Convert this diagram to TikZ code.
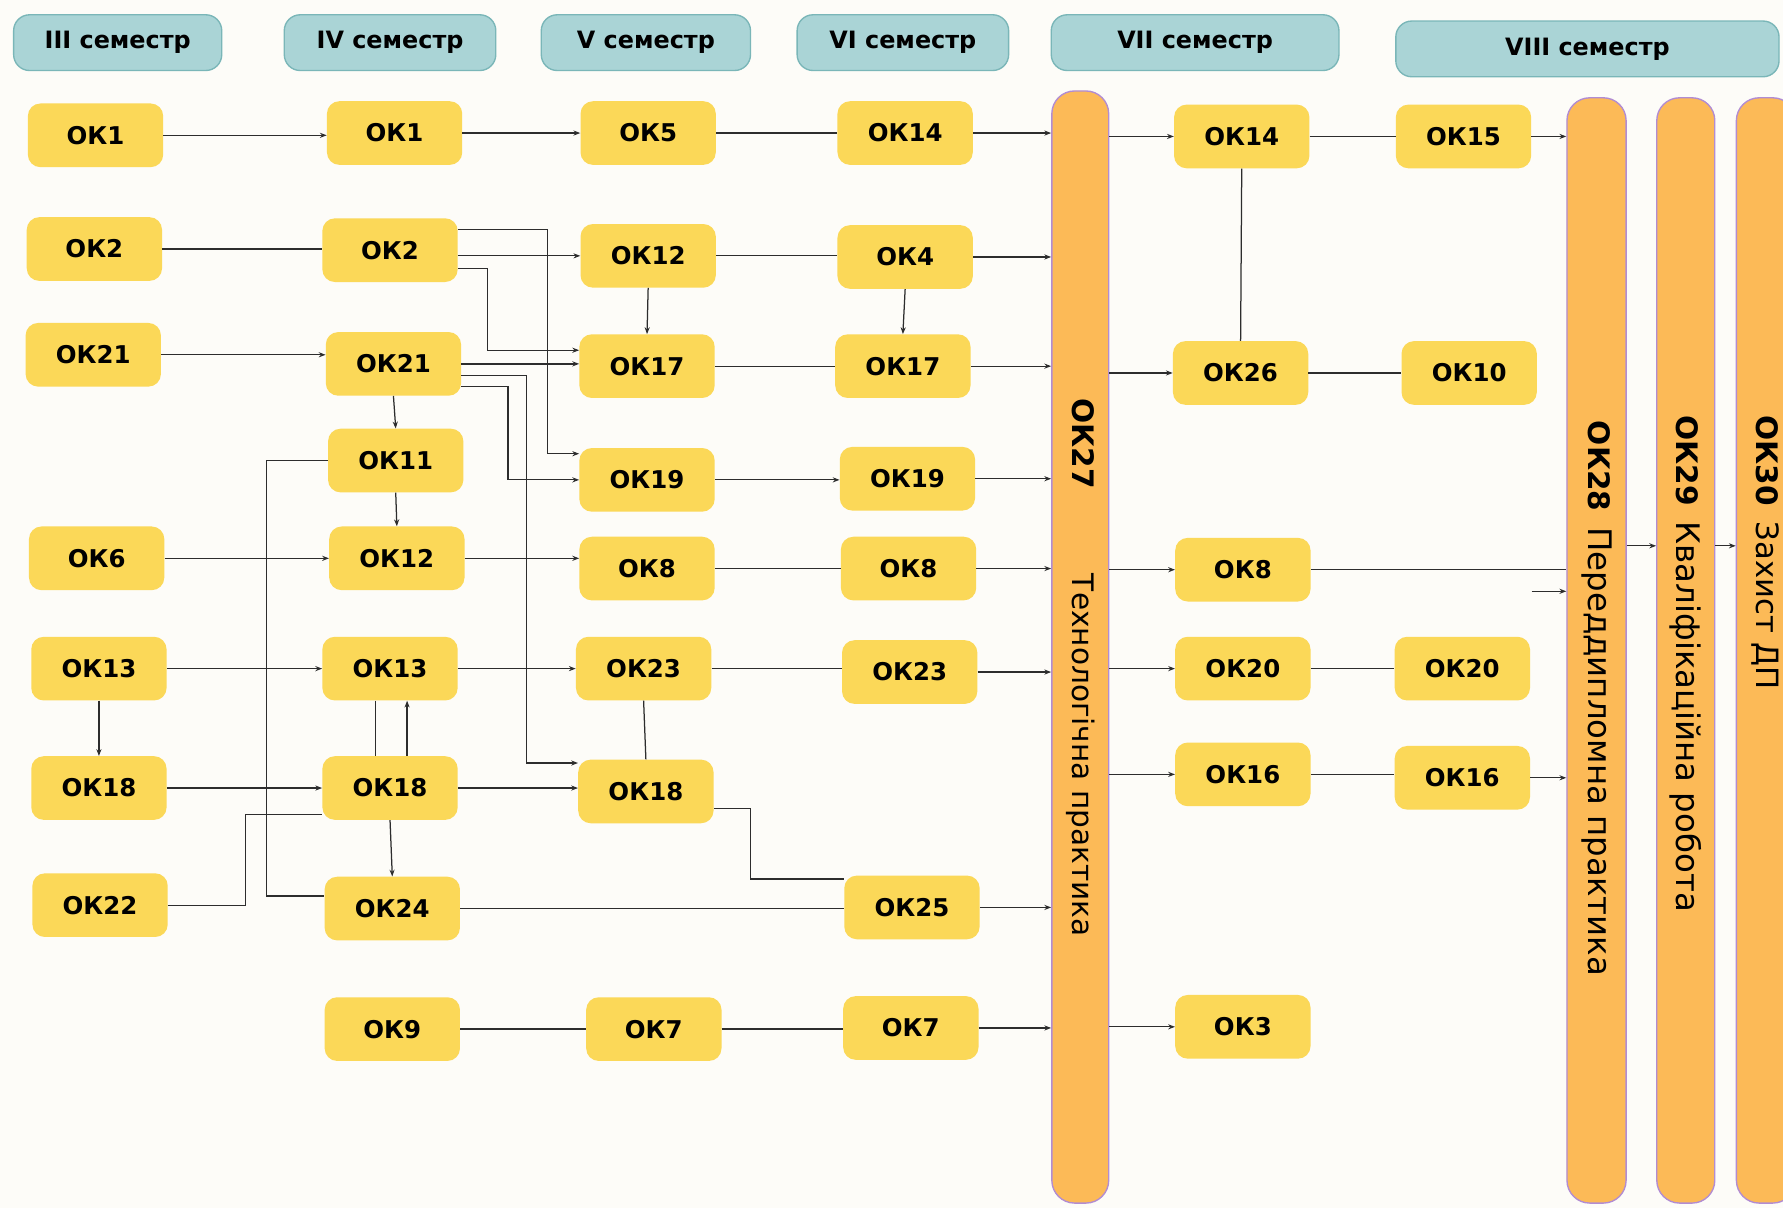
\documentclass[tikz,border=0pt]{standalone}
\usepackage{fontspec}
\setmainfont{DejaVu Sans}
\usetikzlibrary{arrows.meta}
\definecolor{okfill}{RGB}{251,216,88}
\definecolor{hdrfill}{RGB}{170,212,214}
\definecolor{hdrline}{RGB}{122,182,184}
\definecolor{barfill}{RGB}{252,186,87}
\definecolor{barline}{RGB}{178,140,210}
\definecolor{bgc}{RGB}{253,252,248}
\definecolor{lnc}{RGB}{45,45,45}
\tikzset{
  okbox/.style={rectangle, rounded corners=11pt, fill=okfill, minimum width=119pt, minimum height=56pt, inner sep=0pt, font=\fontsize{21.5}{24}\selectfont\bfseries},
  hdr/.style={rectangle, rounded corners=14pt, fill=hdrfill, draw=hdrline, line width=1.2pt, minimum height=49pt, inner sep=0pt, font=\fontsize{21}{24}\selectfont\bfseries},
  barbox/.style={rectangle, rounded corners=20pt, fill=barfill, draw=barline, line width=1.2pt, inner sep=0pt},
  barlabel/.style={rotate=-90, anchor=west, inner sep=0pt, font=\fontsize{26}{30}\selectfont},
  ln/.style={draw=lnc, line width=1.1pt},
  ar/.style={ln, -{Stealth[length=6pt,width=4.5pt]}},
}
\begin{document}
\begin{tikzpicture}[x=1pt,y=-1pt]
\fill[bgc] (0,0) rectangle (1568,1062);
\useasboundingbox (0,0) rectangle (1568,1062);
\begin{scope}
\clip (0,0) rectangle (1568,1062);
% headers
\node[hdr, minimum width=183pt] (h3) at (103.5,37.5) {III семестр};
\node[hdr, minimum width=186pt] (h4) at (343,37.5) {IV семестр};
\node[hdr, minimum width=184pt] (h5) at (568,37.5) {V семестр};
\node[hdr, minimum width=186pt] (h6) at (794,37.5) {VI семестр};
\node[hdr, minimum width=253pt] (h7) at (1051,37.5) {VII семестр};
\node[hdr, minimum width=337pt] (h8) at (1396,43) {VIII семестр};
% bars
\node[barbox, minimum width=50pt, minimum height=978pt] (b27) at (950,569) {};
\node[barbox, minimum width=52pt, minimum height=972pt] (b28) at (1404,572) {};
\node[barbox, minimum width=51pt, minimum height=972pt] (b29) at (1482.5,572) {};
\node[barbox, minimum width=52pt, minimum height=972pt] (b30) at (1553,572) {};
\node[barlabel] (l27) at (950,350) {\textbf{ОК27}\hspace{75pt}Технологічна практика};
\node[barlabel] (l28) at (1404,370) {\textbf{ОК28}\hspace{14pt}{\fontsize{28.5}{30}\selectfont Переддипломна практика}};
\node[barlabel] (l29) at (1482,365) {\textbf{ОК29}\hspace{14pt}{\fontsize{28.5}{30}\selectfont Кваліфікаційна робота}};
\node[barlabel] (l30) at (1553,365) {\textbf{ОК30}\hspace{14pt}{\fontsize{27}{30}\selectfont Захист ДП}};
% III semester
\node[okbox] (ok1a) at (84,119) {ОК1};
\node[okbox] (ok2a) at (83,219) {ОК2};
\node[okbox] (ok21a) at (82,312) {ОК21};
\node[okbox] (ok6a) at (85,491) {ОК6};
\node[okbox] (ok13a) at (87,588) {ОК13};
\node[okbox] (ok18a) at (87,693) {ОК18};
\node[okbox] (ok22a) at (88,796) {ОК22};
% IV semester
\node[okbox] (ok1b) at (347,117) {ОК1};
\node[okbox] (ok2b) at (343,220) {ОК2};
\node[okbox] (ok21b) at (346,320) {ОК21};
\node[okbox] (ok11b) at (348,405) {ОК11};
\node[okbox] (ok12b) at (349,491) {ОК12};
\node[okbox] (ok13b) at (343,588) {ОК13};
\node[okbox] (ok18b) at (343,693) {ОК18};
\node[okbox] (ok24b) at (345,799) {ОК24};
\node[okbox] (ok9b) at (345,905) {ОК9};
% V semester
\node[okbox] (ok5c) at (570,117) {ОК5};
\node[okbox] (ok12c) at (570,225) {ОК12};
\node[okbox] (ok17c) at (569,322) {ОК17};
\node[okbox] (ok19c) at (569,422) {ОК19};
\node[okbox] (ok8c) at (569,500) {ОК8};
\node[okbox] (ok23c) at (566,588) {ОК23};
\node[okbox] (ok18c) at (568,696) {ОК18};
\node[okbox] (ok7c) at (575,905) {ОК7};
% VI semester
\node[okbox] (ok14d) at (796,117) {ОК14};
\node[okbox] (ok4d) at (796,226) {ОК4};
\node[okbox] (ok17d) at (794,322) {ОК17};
\node[okbox] (ok19d) at (798,421) {ОК19};
\node[okbox] (ok8d) at (799,500) {ОК8};
\node[okbox] (ok23d) at (800,591) {ОК23};
\node[okbox] (ok25d) at (802,798) {ОК25};
\node[okbox] (ok7d) at (801,904) {ОК7};
% VII semester
\node[okbox] (ok14e) at (1092,120) {ОК14};
\node[okbox] (ok26e) at (1091,328) {ОК26};
\node[okbox] (ok8e) at (1093,501) {ОК8};
\node[okbox] (ok20e) at (1093,588) {ОК20};
\node[okbox] (ok16e) at (1093,681) {ОК16};
\node[okbox] (ok3e) at (1093,903) {ОК3};
% VIII semester
\node[okbox] (ok15f) at (1287,120) {ОК15};
\node[okbox] (ok10f) at (1292,328) {ОК10};
\node[okbox] (ok20f) at (1286,588) {ОК20};
\node[okbox] (ok16f) at (1286,684) {ОК16};
\coordinate (stub) at (1347,520);

% III -> IV
\draw[ar] (ok1a.east) -- (ok1a.east -| ok1b.west);
\draw[ln] (ok2a.east) -- (ok2a.east -| ok2b.west);
\draw[ar] (ok21a.east) -- (ok21a.east -| ok21b.west);
\draw[ar] (ok6a.east) -- (ok6a.east -| ok12b.west);
\draw[ar] (ok13a.east) -- (ok13a.east -| ok13b.west);
\draw[ar] (ok18a.east) -- (ok18a.east -| ok18b.west);
\draw[ln] (ok22a.east) -- ++(68,0) |- ([yshift=-23pt]ok18b.west);
\draw[ar] (ok13a.south) -- (ok18a.north);
% IV internal
\draw[ar] (ok21b.south) -- (ok11b.north);
\draw[ar] (ok11b.south) -- (ok12b.north);
\draw[ln] ([xshift=-13pt]ok13b.south) -- ([xshift=-13pt]ok13b.south |- ok18b.north);
\draw[ar] ([xshift=15pt]ok18b.north) -- ([xshift=15pt]ok18b.north |- ok13b.south);
\draw[ar] (ok18b.south) -- (ok24b.north);
\draw[ln] (ok11b.west) -- ++(-54,0) |- ([yshift=11pt]ok24b.west);
% IV -> V
\draw[ar] (ok1b.east) -- (ok1b.east -| ok5c.west);
\draw[ar] ([yshift=-5pt]ok2b.east) -- ([yshift=-5pt]ok2b.east -| ok12c.west);
\draw[ar] ([yshift=18pt]ok2b.east) -- ++(79,0) |- ([yshift=23pt]ok19c.west);
\draw[ar] ([yshift=-16pt]ok2b.east) -- ++(26,0) |- ([yshift=14pt]ok17c.west);
\draw[ar] (ok21b.east) -- (ok21b.east -| ok17c.west);
\draw[ar] ([yshift=-10pt]ok21b.east) -- ++(57,0) |- ([yshift=25pt]ok18c.west);
\draw[ar] ([yshift=-20pt]ok21b.east) -- ++(41,0) |- (ok19c.west);
\draw[ar] (ok12b.east) -- (ok12b.east -| ok8c.west);
\draw[ar] (ok13b.east) -- (ok13b.east -| ok23c.west);
\draw[ar] (ok18b.east) -- (ok18b.east -| ok18c.west);
\draw[ln] (ok9b.east) -- (ok9b.east -| ok7c.west);
% V internal
\draw[ar] (ok12c.south) -- (ok17c.north);
\draw[ln] (ok23c.south) -- (ok18c.north);
% V -> VI
\draw[ln] (ok5c.east) -- (ok5c.east -| ok14d.west);
\draw[ln] (ok12c.east) -- (ok12c.east -| ok4d.west);
\draw[ln] (ok17c.east) -- (ok17c.east -| ok17d.west);
\draw[ar] (ok19c.east) -- (ok19c.east -| ok19d.west);
\draw[ln] (ok8c.east) -- (ok8c.east -| ok8d.west);
\draw[ln] (ok23c.east) -- (ok23c.east -| ok23d.west);
\draw[ln] ([yshift=-15pt]ok18c.east) -- ++(32,0) |- ([yshift=25pt]ok25d.west);
\draw[ln] (ok24b.east) -- (ok24b.east -| ok25d.west);
\draw[ln] (ok7c.east) -- (ok7c.east -| ok7d.west);
% VI internal
\draw[ar] (ok4d.south) -- (ok17d.north);
% VI -> OK27
\foreach \n in {ok14d,ok4d,ok17d,ok19d,ok8d,ok23d,ok25d,ok7d}
  \draw[ar] (\n.east) -- (\n.east -| b27.west);
% OK27 -> VII
\foreach \n in {ok14e,ok26e,ok8e,ok20e,ok16e,ok3e}
  \draw[ar] (b27.east |- \n.west) -- (\n.west);
% VII
\draw[ln] (ok14e.south) -- (ok26e.north);
\draw[ln] (ok14e.east) -- (ok14e.east -| ok15f.west);
\draw[ln] (ok26e.east) -- (ok26e.east -| ok10f.west);
\draw[ln] (ok20e.east) -- (ok20e.east -| ok20f.west);
\draw[ln] (ok16e.east) -- (ok16e.east -| ok16f.west);
\draw[ln] (ok8e.east) -- (ok8e.east -| b28.west);
\draw[ar] (stub) -- (stub -| b28.west);
% VIII -> OK28
\draw[ar] (ok15f.east) -- (ok15f.east -| b28.west);
\draw[ar] (ok16f.east) -- (ok16f.east -| b28.west);
\draw[ar] ([yshift=92pt]b28.east) -- ([yshift=92pt]b28.east -| b29.west);
\draw[ar] ([yshift=92pt]b29.east) -- ([yshift=92pt]b29.east -| b30.west);
\end{scope}
\end{tikzpicture}
\end{document}
